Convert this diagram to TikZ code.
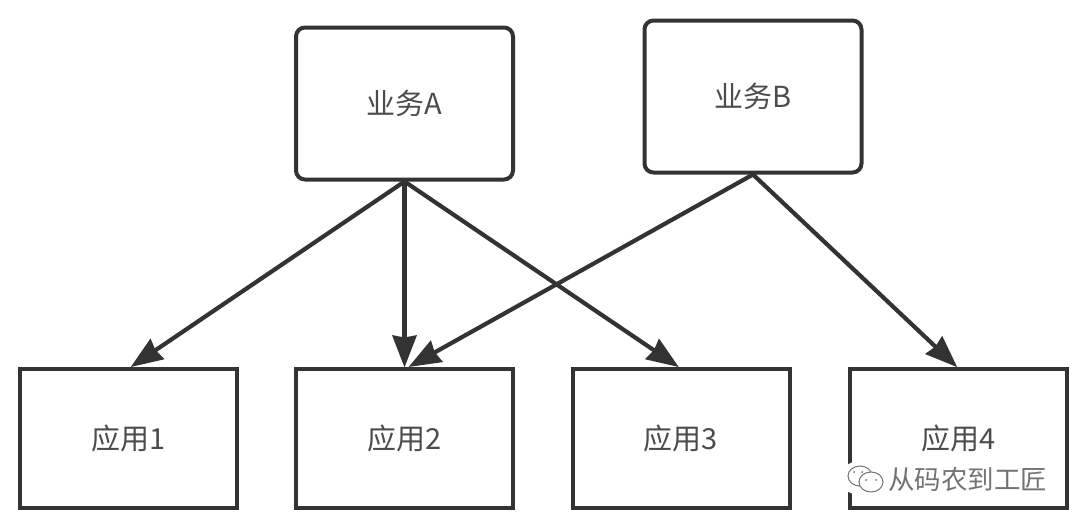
\documentclass[tikz,border=0pt]{standalone}
\usepackage{fontspec}
\setmainfont{Noto Sans CJK SC}
\usetikzlibrary{arrows.meta}
\definecolor{ink}{gray}{0.2}
\definecolor{txt}{gray}{0.3}
\definecolor{wmgray}{gray}{0.45}
\newcommand{\lbl}[1]{\raisebox{-2pt}{#1}}
\tikzset{
  x=1pt,y=-1pt,
  boxbase/.style={draw=ink,line width=4pt,fill=white,minimum width=217pt,anchor=center,inner sep=0pt,text=txt,font=\fontsize{29}{32}\selectfont},
  bizbox/.style={boxbase,rounded corners=9pt,minimum height=152pt},
  appbox/.style={boxbase,minimum height=139pt},
  link/.style={draw=ink,line width=4.2pt,-{Stealth[length=32pt,width=24pt,inset=2pt]},shorten >=-1pt},
  wm/.style={text=wmgray,font=\fontsize{26.5}{30}\selectfont,inner sep=0pt,anchor=west},
  bubble/.style={draw=wmgray,line width=1pt,fill=white}
}
\begin{document}
\begin{tikzpicture}
\useasboundingbox (0,0) rectangle (1080,525);
\node[bizbox] (A) at (404.5,103.5) {\lbl{业务A}};
\node[bizbox] (B) at (753,96.5) {\lbl{业务B}};
\node[appbox] (a1) at (128.5,438) {\lbl{应用1}};
\node[appbox] (a2) at (404.5,438) {\lbl{应用2}};
\node[appbox] (a3) at (681,438) {\lbl{应用3}};
\node[appbox] (a4) at (958.5,438) {\lbl{应用4}};
\draw[link] (A.south) -- ([xshift=3pt]a1.north);
\draw[link] (A.south) -- (a2.north);
\draw[link] (A.south) -- ([xshift=-3pt]a3.north);
\draw[link] (B.south) -- ([xshift=5pt]a2.north);
\draw[link] (B.south) -- ([xshift=-2pt]a4.north);
\fill[white] (860,478) ellipse (20pt and 17pt);
\draw[bubble] (860,476) ellipse (12pt and 10pt);
\draw[bubble] (871,482) ellipse (12pt and 10pt);
\fill[wmgray] (866,480) circle (1pt) (876,480) circle (1pt) (854,472) circle (1pt) (862,472) circle (1pt);
\node[wm] (w) at (888,479) {从码农到工匠};
\end{tikzpicture}
\end{document}
